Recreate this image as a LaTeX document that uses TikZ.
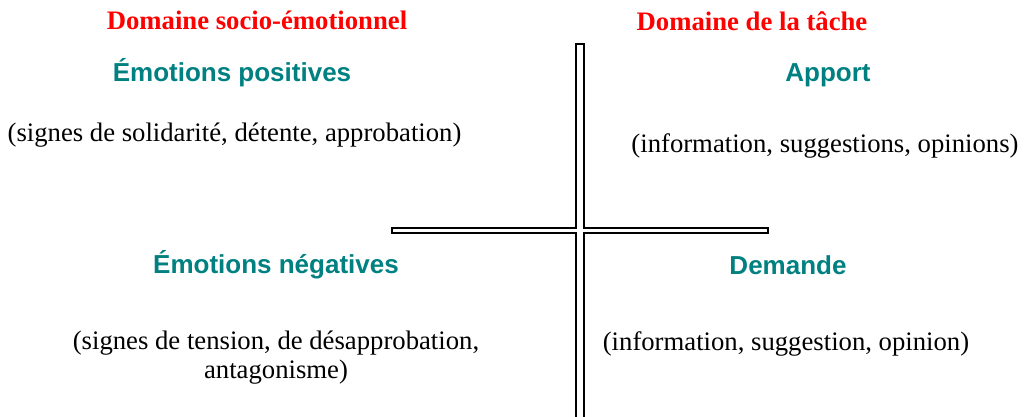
\documentclass[tikz,border=0pt]{standalone}
\usepackage{fontspec}
\usepackage{xcolor}
\usepackage{tikz}
\setmainfont{Liberation Serif}
\newfontfamily\comicfont{Liberation Sans}
\definecolor{domainred}{HTML}{FF0000}
\definecolor{quadteal}{HTML}{008080}
\usetikzlibrary{positioning, calc}

\begin{document}
\begin{tikzpicture}[x=1pt, y=-1pt,
    domaintitle/.style={anchor=base, inner sep=0pt, text=domainred, font=\fontsize{26.7}{30}\selectfont\bfseries},
    category/.style={anchor=base, inner sep=0pt, text=quadteal, font=\fontsize{26}{30}\selectfont\comicfont\bfseries},
    detail/.style={anchor=base, inner sep=0pt, align=center, font=\fontsize{26.7}{29}\selectfont},
    bar/.style={draw=black, line width=1.8pt, line join=miter}]
    \useasboundingbox (0,0) rectangle (1024,417);

    % Domain titles
    \node[domaintitle] (socio) at (257,30) {Domaine socio-émotionnel};
    \node[domaintitle] (task) at (752,31) {Domaine de la tâche};

    % Upper quadrants
    \node[category] (positive) at (232,82) {Émotions positives};
    \node[detail] (positivetext) at (234.5,141.5) {(signes de solidarité, détente, approbation)};
    \node[category] (supply) at (828,82) {Apport};
    \node[detail] (supplytext) at (825,152) {(information, suggestions, opinions)};

    % Lower quadrants
    \node[category] (negative) at (276,273) {Émotions négatives};
    \node[detail] (negativetext) at (276,378) {(signes de tension, de désapprobation,\\ antagonisme)};
    \node[category] (request) at (788,274) {Demande};
    \node[detail] (requesttext) at (786,350) {(information, suggestion, opinion)};

    % Cross
    \coordinate (centre) at (580,230.5);
    \draw[bar] ($(centre)+(-4,190)$) -- ($(centre)+(-4,2.5)$) -- ($(centre)+(-188,2.5)$)
        -- ($(centre)+(-188,-2.5)$) -- ($(centre)+(-4,-2.5)$) -- ($(centre)+(-4,-186.5)$)
        -- ($(centre)+(4,-186.5)$) -- ($(centre)+(4,-2.5)$) -- ($(centre)+(188,-2.5)$)
        -- ($(centre)+(188,2.5)$) -- ($(centre)+(4,2.5)$) -- ($(centre)+(4,190)$);
\end{tikzpicture}
\end{document}
